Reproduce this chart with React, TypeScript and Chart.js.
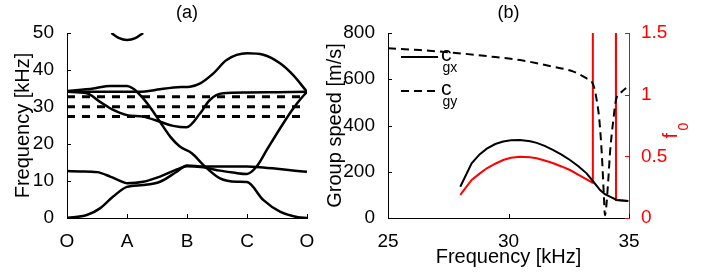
import React, { useEffect, useRef } from 'react';
import { Chart, registerables } from 'chart.js';
Chart.register(...registerables);

const FONT = "'Liberation Sans', Arial, Helvetica, sans-serif";

// ---------- (a) band structure ----------
const pathLabels = ['O', 'A', 'B', 'C', 'O'];

const band1X = [0, 0.33, 0.55, 0.77, 1.0, 1.27, 1.55, 1.83, 2.0, 2.27, 2.6, 3.0, 3.16, 3.5, 3.8, 4.0];
const band1Y = [0, 0.8, 2.6, 5.8, 8.4, 8.9, 9.8, 12.5, 14.2, 13.9, 13.9, 13.9, 13.8, 13.3, 12.8, 12.5];

const band2X = [0, 0.22, 0.5, 0.72, 0.97, 1.0, 1.27, 1.55, 1.83, 2.0, 2.27, 2.55, 2.8, 3.0, 3.16, 3.33, 3.55, 3.77, 3.9, 4.0];
const band2Y = [12.7, 12.6, 12.4, 11.2, 9.5, 9.4, 9.8, 11.2, 13.1, 14.0, 13.7, 12.8, 12.2, 11.9, 13.9, 18.4, 24.2, 29.6, 32.3, 34.1];

const band3X = [0, 0.44, 0.72, 1.0, 1.1, 1.22, 1.38, 1.55, 1.72, 1.88, 2.08, 2.3, 2.55, 2.83, 3.0, 3.27, 3.55, 3.85, 4.0];
const band3Y = [34.3, 35.0, 35.7, 35.7, 35.0, 33.2, 30.1, 26.0, 22.0, 19.3, 17.5, 13.9, 10.7, 9.8, 9.7, 4.9, 1.7, 0.2, 0];

const band4X = [0, 0.33, 0.55, 0.77, 1.0, 1.27, 1.55, 1.77, 1.99, 2.22, 2.38, 2.6, 3.0, 3.5, 4.0];
const band4Y = [34.1, 33.7, 31.4, 29.2, 27.8, 27.4, 26.0, 24.9, 24.5, 28.3, 31.9, 33.7, 33.9, 34.0, 34.1];

const band5X = [0, 0.5, 1.0, 1.3, 1.55, 1.9, 2.05, 2.22, 2.44, 2.66, 3.0, 3.27, 3.55, 3.77, 4.0];
const band5Y = [34.1, 34.1, 34.1, 34.2, 34.8, 35.4, 35.5, 36.4, 39.1, 42.7, 44.5, 44.1, 41.8, 38.6, 34.1];

const band6X = [0.74, 0.86, 1.0, 1.14, 1.27];
const band6Y = [50.0, 48.7, 48.1, 48.6, 50.0];

const gapLevels = [32.8, 30.1, 27.4];
const gapX = [0, 3.92];

// ---------- (b) group speed ----------
const cgxF = [28.0, 28.47, 28.8, 29.1, 29.45, 29.78, 30.1, 30.48, 30.9, 31.17, 31.5, 31.86, 32.2, 32.55, 32.9, 33.24, 33.5, 33.8, 34.0, 34.21, 34.49, 34.97];
const cgxV = [135, 236, 275, 300, 320, 331, 336, 337, 332, 325, 312, 294, 274, 251, 224, 193, 160, 121, 103, 92, 78, 74];

const cgyF = [25, 26.33, 27.7, 29.1, 30.48, 31.86, 32.7, 33.24, 33.45, 33.55, 33.66, 33.77, 33.87, 33.96, 34.0, 34.14, 34.21, 34.35, 34.46, 34.7, 34.88];
const cgyV = [734, 726, 715, 700, 683, 654, 633, 604, 590, 565, 510, 424, 280, 92, 12, 164, 280, 424, 510, 546, 562];

const f0F = [28.0, 28.47, 28.8, 29.1, 29.45, 29.78, 30.1, 30.48, 30.9, 31.17, 31.5, 31.86, 32.2, 32.55, 33.0, 33.49, 33.5, 34.45, 34.46, 34.97];
const f0V = [0.187, 0.308, 0.36, 0.403, 0.44, 0.47, 0.488, 0.497, 0.492, 0.484, 0.466, 0.444, 0.418, 0.389, 0.34, 0.286, 3, 3, 0.146, 0.138];

const pts = (xs: number[], ys: number[]) => xs.map((x, i) => ({ x, y: ys[i] }));

const inwardTicks = {
  id: 'inwardTicks',
  afterDatasetsDraw(chart: any, _a: any, opts: any) {
    const { ctx, chartArea: ca } = chart;
    ctx.save();
    (opts.scales || []).forEach((s: any) => {
      const scale = chart.scales[s.id];
      if (!scale) return;
      ctx.strokeStyle = s.color || '#000';
      ctx.lineWidth = 1;
      ctx.beginPath();
      scale.ticks.forEach((_t: any, i: number) => {
        const p = Math.round(scale.getPixelForTick(i)) + 0.5;
        if (scale.isHorizontal()) {
          ctx.moveTo(p, ca.bottom);
          ctx.lineTo(p, ca.bottom - 4);
        } else if (scale.position === 'left') {
          ctx.moveTo(ca.left, p);
          ctx.lineTo(ca.left + 4, p);
        } else {
          ctx.moveTo(ca.right, p);
          ctx.lineTo(ca.right - 4, p);
        }
      });
      ctx.stroke();
    });
    ctx.restore();
  },
};

const panelTitle = {
  id: 'panelTitle',
  afterDraw(chart: any, _a: any, opts: any) {
    const { ctx, chartArea: ca } = chart;
    ctx.save();
    ctx.fillStyle = '#000';
    ctx.font = `18px ${FONT}`;
    ctx.textAlign = 'center';
    ctx.textBaseline = 'middle';
    ctx.fillText(opts.text, (ca.left + ca.right) / 2, 13);
    ctx.restore();
  },
};

const subLegend = {
  id: 'subLegend',
  afterDraw(chart: any, _a: any, opts: any) {
    if (!opts || !opts.rows) return;
    const { ctx, chartArea: ca } = chart;
    ctx.save();
    opts.rows.forEach((r: any) => {
      const d = chart.data.datasets[r.ds];
      const y = ca.top + r.dy;
      ctx.strokeStyle = d.borderColor;
      ctx.lineWidth = d.borderWidth;
      ctx.setLineDash(d.borderDash || []);
      ctx.beginPath();
      ctx.moveTo(ca.left + 13, y);
      ctx.lineTo(ca.left + 50, y);
      ctx.stroke();
      ctx.setLineDash([]);
      ctx.fillStyle = '#000';
      ctx.textAlign = 'left';
      ctx.textBaseline = 'alphabetic';
      ctx.font = `21px ${FONT}`;
      ctx.fillText('c', ca.left + 53, y + 4);
      ctx.font = `14px ${FONT}`;
      ctx.fillText(r.sub, ca.left + 54.5, y + 14.5);
    });
    ctx.restore();
    // f0 label on right axis
    if (opts.rightLabel) {
      ctx.save();
      const x = ca.right + 48;
      const yc = (ca.top + ca.bottom) / 2 + 13;
      ctx.translate(x, yc);
      ctx.rotate(-Math.PI / 2);
      ctx.fillStyle = '#ff0000';
      ctx.textAlign = 'left';
      ctx.textBaseline = 'alphabetic';
      ctx.font = `20px ${FONT}`;
      ctx.fillText('f', 0, 0);
      ctx.font = `14px ${FONT}`;
      ctx.fillText('0', 8, 11);
      ctx.restore();
    }
  },
};

const curveStyle = {
  borderColor: '#000',
  borderWidth: 2.5,
  pointRadius: 0,
  cubicInterpolationMode: 'monotone' as const,
};

export default function App() {
  const refA = useRef<HTMLCanvasElement>(null);
  const refB = useRef<HTMLCanvasElement>(null);

  useEffect(() => {
    Chart.defaults.font.family = FONT;
    Chart.defaults.color = '#000';

    const bands = [
      [band1X, band1Y], [band2X, band2Y], [band3X, band3Y],
      [band4X, band4Y], [band5X, band5Y], [band6X, band6Y],
    ];
    const dsA: any[] = bands.map(([xs, ys]) => ({ ...curveStyle, data: pts(xs, ys) }));
    gapLevels.forEach((lv) => {
      dsA.push({
        data: pts(gapX, gapX.map(() => lv)),
        borderColor: '#000',
        borderWidth: 3,
        borderDash: [8, 7],
        pointRadius: 0,
        tension: 0,
      });
    });

    const chartA = new Chart(refA.current!, {
      type: 'line',
      data: { datasets: dsA },
      plugins: [inwardTicks, panelTitle],
      options: {
        responsive: false,
        animation: false,
        events: [],
        layout: { padding: { top: 33, right: 23, left: 0, bottom: 0 } },
        plugins: {
          legend: { display: false },
          tooltip: { enabled: false },
          inwardTicks: { scales: [{ id: 'x' }, { id: 'y' }] },
          panelTitle: { text: '(a)' },
        } as any,
        scales: {
          x: {
            type: 'linear',
            min: 0,
            max: 4,
            afterFit: (s: any) => { s.height = 59; },
            grid: { display: false },
            border: { display: true, color: '#000', width: 1 },
            ticks: {
              stepSize: 1,
              maxRotation: 0,
              autoSkip: false,
              padding: 4,
              font: { size: 19 },
              callback: (_v: any, i: number) => pathLabels[i],
            },
          },
          y: {
            type: 'linear',
            min: 0,
            max: 50,
            afterFit: (s: any) => { s.width = 67; },
            grid: { display: false },
            border: { display: true, color: '#000', width: 1 },
            ticks: { stepSize: 10, padding: 5, font: { size: 19 }, callback: (v: any) => String(v) },
            title: { display: true, text: 'Frequency [kHz]', font: { size: 20 }, padding: { top: 11 } },
          },
        },
      } as any,
    });

    const chartB = new Chart(refB.current!, {
      type: 'line',
      data: {
        datasets: [
          { data: pts(cgxF, cgxV), borderColor: '#000', borderWidth: 2, pointRadius: 0, tension: 0, yAxisID: 'y' },
          { data: pts(cgyF, cgyV), borderColor: '#000', borderWidth: 2, borderDash: [8, 5], pointRadius: 0, cubicInterpolationMode: 'monotone', yAxisID: 'y' },
          { data: pts(f0F, f0V), borderColor: '#ff0000', borderWidth: 2, pointRadius: 0, tension: 0, yAxisID: 'y1' },
        ],
      },
      plugins: [inwardTicks, panelTitle, subLegend],
      options: {
        responsive: false,
        animation: false,
        events: [],
        layout: { padding: { top: 33, right: 0, left: 0, bottom: 0 } },
        plugins: {
          legend: { display: false },
          tooltip: { enabled: false },
          inwardTicks: { scales: [{ id: 'x' }, { id: 'y' }, { id: 'y1', color: 'red' }] },
          panelTitle: { text: '(b)' },
          subLegend: { rows: [{ ds: 0, dy: 24, sub: 'gx' }, { ds: 1, dy: 58, sub: 'gy' }], rightLabel: true },
        } as any,
        scales: {
          x: {
            type: 'linear',
            min: 25,
            max: 35,
            afterFit: (s: any) => { s.height = 59; },
            grid: { display: false },
            border: { display: true, color: '#000', width: 1 },
            ticks: { stepSize: 5, maxRotation: 0, padding: 4, font: { size: 19 }, callback: (v: any) => String(v) },
            title: { display: true, text: 'Frequency [kHz]', font: { size: 20 }, padding: { bottom: 8 } },
          },
          y: {
            type: 'linear',
            position: 'left',
            min: 0,
            max: 800,
            afterFit: (s: any) => { s.width = 68; },
            grid: { display: false },
            border: { display: true, color: '#000', width: 1 },
            ticks: { stepSize: 200, padding: 5, font: { size: 19 }, callback: (v: any) => String(v) },
            title: { display: true, text: 'Group speed [m/s]', font: { size: 20 }, padding: { top: 3 } },
          },
          y1: {
            type: 'linear',
            position: 'right',
            min: 0,
            max: 1.5,
            afterFit: (s: any) => { s.width = 89; },
            grid: { display: false },
            border: { display: true, color: '#ff0000', width: 1 },
            ticks: { stepSize: 0.5, padding: 4, color: '#ff0000', font: { size: 19 }, callback: (v: any) => String(v) },
          },
        },
      } as any,
    });

    return () => {
      chartA.destroy();
      chartB.destroy();
    };
  }, []);

  return (
    <div style={{ position: 'fixed', left: 0, top: 0, width: 718, height: 277, background: '#fff', overflow: 'hidden' }}>
      <canvas ref={refA} width={330} height={277} style={{ position: 'absolute', left: 0, top: 0 }} />
      <canvas ref={refB} width={398} height={277} style={{ position: 'absolute', left: 320, top: 0 }} />
    </div>
  );
}
